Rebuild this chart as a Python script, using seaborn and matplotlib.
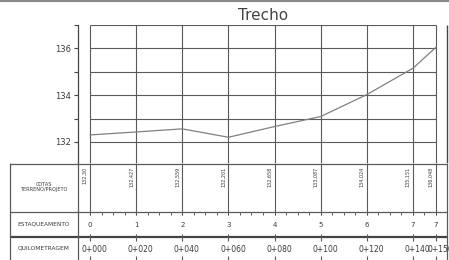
import matplotlib
matplotlib.use("Agg")
import matplotlib.pyplot as plt
import seaborn as sns
import numpy as np
from matplotlib.lines import Line2D

# ---- data ----
distancias = [0, 20, 40, 60, 80, 100, 120, 140, 150]
cotas = [132.30, 132.427, 132.559, 132.201, 132.658, 133.087, 134.024, 135.151, 136.048]
cota_labels = ["132,30", "132,427", "132,559", "132,201", "132,658",
               "133,087", "134,024", "135,151", "136,048"]
estacas = ["0", "1", "2", "3", "4", "5", "6", "7", "7"]
quilometragem = ["0+000", "0+020", "0+040", "0+060", "0+080",
                 "0+100", "0+120", "0+140", "0+150"]
y_major = [132, 134, 136]
y_minor = [133, 135, 137]
grid_y = [132, 133, 134, 135, 136, 137]
titulo = "Trecho"
row_labels = ["COTAS\nTERRENO/PROJETO", "ESTAQUEAMENTO", "QUILOMETRAGEM"]

sns.set_theme(style="white")
plt.rcParams['font.family'] = ['DejaVu Sans']

W, H = 449, 260
fig = plt.figure(figsize=(W / 100, H / 100), dpi=100)
fig.patch.set_facecolor("white")

px2m = 346 / 150.0           # pixels per metre
xlim = (-90 / px2m, (W - 90) / px2m)
def m(px):                   # pixel x -> data x
    return (px - 90) / px2m

LC = "#5a5a5a"
TC = "#3a3a3a"

# ---- profile axes ----
ax = fig.add_axes([0, (H - 163) / H, 1, 138 / H])
ax.set_xlim(*xlim)
ax.set_ylim(131.1, 137.0)
ax.set_facecolor("none")
for s in ["top", "right", "bottom"]:
    ax.spines[s].set_visible(False)
ax.spines["left"].set_position(("data", m(78)))
ax.spines["left"].set_color("#444")
ax.spines["left"].set_linewidth(0.9)
ax.set_yticks(y_major)
ax.set_yticks(y_minor, minor=True)
ax.tick_params(axis="y", which="both", direction="out", length=3, width=0.8,
               color="#444", labelsize=6, labelcolor=TC, pad=2, left=True)
ax.set_xticks([])
ax.set_xlabel("")
ax.set_ylabel("")

ax.hlines(grid_y, distancias[0], distancias[-1], color=LC, lw=0.8)
ax.vlines(distancias, 131.1, 137.0, color=LC, lw=0.8)
ax.vlines([m(447)], 131.1, 137.0, color="#444", lw=1.0)

sns.lineplot(x=distancias, y=cotas, ax=ax, color="#808080", lw=0.9)

fig.text(263 / W, 1 - 15 / H, titulo, ha="center", va="center",
         fontsize=11, color="#444")

# ---- table axes ----
tax = fig.add_axes([0, 0, 1, (H - 163) / H])
tax.set_xlim(*xlim)
tax.set_ylim(H, 163)
tax.axis("off")

x0, x1 = m(10), m(447)
tax.hlines([163.5, 212], x0, x1, color=LC, lw=0.9, clip_on=False)
tax.hlines([237], x0, x1, color="#444", lw=1.6)
tax.vlines([x0, m(78), x1], 163, H, color=LC, lw=0.9, clip_on=False)
# station lines in cotas row
tax.vlines(distancias, 163, 215, color=LC, lw=0.8, clip_on=False)
# minor ticks stakes row
tax.vlines(np.arange(0, 151, 5), 212, 215, color=LC, lw=0.7)
# km row ticks
tax.vlines(distancias, 233.5, 240.5, color=LC, lw=0.8)
tax.vlines(distancias, 256, H, color=LC, lw=0.8)

for d, lab in zip(distancias, cota_labels):
    tax.text(d - 1.0, 167, lab, rotation=90, ha="right", va="top",
             fontsize=3.5, color=TC)
for d, lab in zip(distancias, estacas):
    tax.text(d, 225, lab, ha="center", va="center", fontsize=5, color=TC)
for d, lab in zip(distancias, quilometragem):
    tax.text(d + 2, 249, lab, ha="center", va="center", fontsize=5.5, color=TC)

lab_x = m(44)
tax.text(lab_x, 187, row_labels[0], ha="center", va="center", fontsize=3.6,
         color=TC, linespacing=1.1)
tax.text(lab_x, 224.5, row_labels[1], ha="center", va="center", fontsize=4.2, color=TC)
tax.text(lab_x, 248.5, row_labels[2], ha="center", va="center", fontsize=4.2, color=TC)

# top border band
fig.add_artist(Line2D([0, 1], [1 - 1 / H, 1 - 1 / H], transform=fig.transFigure,
                      color="#888", lw=1.5))

fig.savefig("out.png", dpi=100, facecolor="white")
